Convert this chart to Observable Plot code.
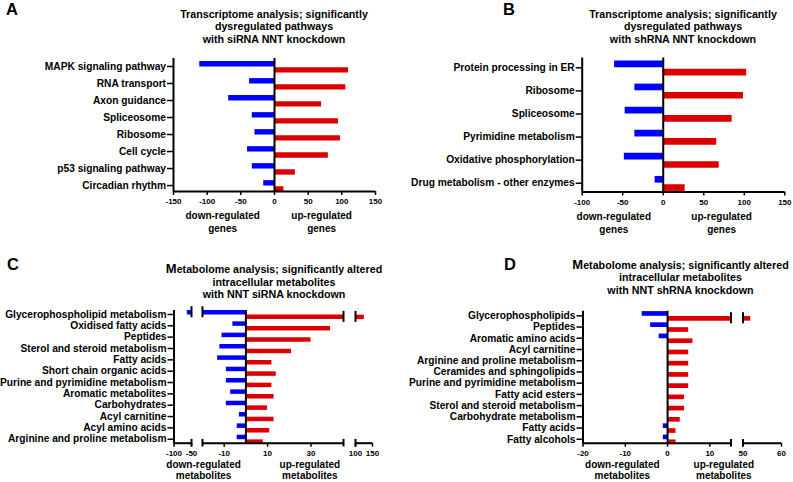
<!DOCTYPE html>
<html><head><meta charset="utf-8">
<script src="https://cdn.jsdelivr.net/npm/d3@7"></script>
<script src="https://cdn.jsdelivr.net/npm/@observablehq/plot@0.6"></script>
<style>
html,body{margin:0;padding:0;background:#fff;}
#root{position:relative;width:793px;height:482px;overflow:hidden;font-family:"Liberation Sans",Arial,Helvetica,sans-serif;font-weight:bold;color:#000;}
.panel{position:absolute;}
.letter{position:absolute;font-size:16.5px;line-height:16.5px;font-weight:bold;}
.title{position:absolute;font-size:10.7px;line-height:12.7px;text-align:center;white-space:nowrap;transform:translateX(-50%);}
.bigM{font-size:13px;line-height:12.7px;}
</style></head><body><div id="root"></div>
<script>
// ---------------- data ----------------
const catsA = ["MAPK signaling pathway","RNA transport","Axon guidance","Spliceosome","Ribosome","Cell cycle","p53 signaling pathway","Circadian rhythm"];
const downA = [-111,-37,-68,-33,-29,-40,-33,-16];
const upA   = [110,106,70,95,98,80,31,14];

const catsB = ["Protein processing in ER","Ribosome","Spliceosome","Pyrimidine metabolism","Oxidative phosphorylation","Drug metabolism - other enzymes"];
const downB = [-60,-35,-47,-35,-48,-10];
const upB   = [103,99,85,66,69,27];

const catsC = ["Glycerophospholipid metabolism","Oxidised fatty acids","Peptides","Sterol and steroid metabolism","Fatty acids","Short chain organic acids","Purine and pyrimidine metabolism","Aromatic metabolites","Carbohydrates","Acyl carnitine","Acyl amino acids","Arginine and proline metabolism"];
const downC = [-62,-6,-11,-12,-13,-9,-9,-7,-9,-3,-4,-4];
const upC   = [126,39,30,21,12,14,12,13,10,13,11,8];

const catsD = ["Glycerophospholipids","Peptides","Aromatic amino acids","Acyl carnitine","Arginine and proline metabolism","Ceramides and sphingolipids","Purine and pyrimidine metabolism","Fatty acid esters","Sterol and steroid metabolism","Carbohydrate metabolism","Fatty acids","Fatty alcohols"];
const downD = [-6,-4,-2,0,0,0,0,0,0,0,-1,-1];
const upD   = [52,5,6,5,5,5,5,4,4,3,2,2];

// axis tick labels and broken-axis segments (domain values)
const ticksA = [-150,-100,-50,0,50,100,150];
const ticksB = [-100,-50,0,50,100,150];
const ticksC = [-100,-50,-10,10,30,100,150];
const ticksD = [-20,-10,0,10,50,60];
const segmentsA = [[-150,150]];
const segmentsB = [[-100,150]];
const segmentsC = [[-100,-50],[-20,45],[100,150]];
const segmentsD = [[-20,15],[50,60]];

const titleA = ["Transcriptome analysis; significantly","dysregulated pathways","with siRNA NNT knockdown"];
const titleB = ["Transcriptome analysis; significantly","dysregulated pathways","with shRNA NNT knockdown"];
const titleC = ["Metabolome analysis; significantly altered","intracellular metabolites","with NNT siRNA knockdown"];
const titleD = ["Metabolome analysis; significantly altered","intracellular metabolites","with NNT shRNA knockdown"];
const axisTitlesGenes = ["down-regulated\ngenes","up-regulated\ngenes"];
const axisTitlesMet = ["down-regulated\nmetabolites","up-regulated\nmetabolites"];

// ---------------- styling ----------------
const BLUE = "#0000ff", RED = "#dd0000";
const FONT = "'Liberation Sans', Arial, Helvetica, sans-serif";
const root = document.getElementById("root");

function panel(cfg) {
  const n = cfg.cats.length;
  const rows = cfg.cats.map((c, i) => ({i, c, down: cfg.down[i], up: cfg.up[i]}));
  const segs = cfg.segments;
  const xMin = segs[0][0];
  const domain = segs.flat();
  const innerBreaks = domain.slice(1, -1);
  const [yTop, yBottom] = cfg.yDomain;
  const frameH = cfg.height - cfg.marginTop - cfg.marginBottom;
  const s = frameH / (yBottom - yTop);

  function pieces(field) {
    const out = [];
    for (const r of rows) {
      const v = r[field];
      if (!v) continue;
      const lo = Math.min(0, v), hi = Math.max(0, v);
      for (const [a, b] of segs) {
        const p0 = Math.max(lo, a), p1 = Math.min(hi, b);
        if (p1 > p0) out.push({i: r.i, x1: p0, x2: p1});
      }
    }
    return out;
  }
  function breakMarks(field) {
    const out = [];
    for (const r of rows) {
      const v = r[field];
      const lo = Math.min(0, v), hi = Math.max(0, v);
      for (const b of innerBreaks) if (b > lo && b < hi) out.push({i: r.i, x: b});
    }
    return out;
  }
  const mh = 5.5;
  const marks = [
    Plot.ruleY(pieces("down"), {y: "i", x1: "x1", x2: "x2", stroke: BLUE, strokeWidth: cfg.barH, dy: cfg.blueDy}),
    Plot.ruleY(pieces("up"), {y: "i", x1: "x1", x2: "x2", stroke: RED, strokeWidth: cfg.barH, dy: cfg.redDy}),
    Plot.ruleX(breakMarks("down"), {x: "x", y1: d => d.i + (cfg.blueDy - mh) / s, y2: d => d.i + (cfg.blueDy + mh) / s, stroke: "#000", strokeWidth: 2}),
    Plot.ruleX(breakMarks("up"), {x: "x", y1: d => d.i + (cfg.redDy - mh) / s, y2: d => d.i + (cfg.redDy + mh) / s, stroke: "#000", strokeWidth: 2}),
    Plot.ruleX([0], {stroke: "#000", strokeWidth: 2}),
    Plot.ruleX([xMin], {stroke: "#000", strokeWidth: 2}),
    Plot.ruleY(segs, {x1: d => d[0], x2: d => d[1], y: () => yBottom, stroke: "#000", strokeWidth: 2}),
    Plot.ruleX(innerBreaks, {x: d => d, y1: yBottom - 3.8 / s, y2: yBottom + 3.8 / s, stroke: "#000", strokeWidth: 2}),
    Plot.axisX({ticks: cfg.ticks, tickFormat: d => String(d), tickSize: 4, tickPadding: 3, fontSize: 8, fontWeight: "bold", strokeWidth: 1.5, label: null}),
    Plot.axisY({ticks: d3.range(n), tickFormat: i => cfg.cats[i], tickSize: 6, tickPadding: 1.5, fontSize: 10.2, fontWeight: "bold", strokeWidth: 1.5, label: null}),
    Plot.text(cfg.axisTitles.map((t, k) => ({t, x: cfg.axisTitleX[k]})), {x: "x", text: "t", frameAnchor: "bottom", dy: cfg.axisTitleDy, lineAnchor: "middle", lineHeight: cfg.axisTitleLH, fontSize: 10, fontWeight: "bold", fill: "#000"})
  ];
  const chart = Plot.plot({
    width: cfg.width, height: cfg.height,
    marginLeft: cfg.marginLeft, marginRight: cfg.marginRight,
    marginTop: cfg.marginTop, marginBottom: cfg.marginBottom,
    x: {type: "linear", domain, range: cfg.xRange},
    y: {type: "linear", domain: [yTop, yBottom], range: [cfg.marginTop, cfg.height - cfg.marginBottom]},
    style: {fontFamily: FONT, fontWeight: "bold", color: "#000", background: "transparent", overflow: "visible"},
    marks
  });
  const wrap = document.createElement("div");
  wrap.className = "panel";
  wrap.style.left = cfg.left + "px";
  wrap.style.top = cfg.top + "px";
  wrap.appendChild(chart);
  root.appendChild(wrap);

  const t = document.createElement("div");
  t.className = "title";
  t.style.left = cfg.titleX + "px";
  t.style.top = cfg.titleY + "px";
  t.innerHTML = cfg.title.map((line, k) => k === 0 && cfg.bigFirst ? `<span class="bigM">${line[0]}</span>${line.slice(1)}` : line).join("<br>");
  root.appendChild(t);

  const L = document.createElement("div");
  L.className = "letter";
  L.style.left = cfg.letterX + "px";
  L.style.top = cfg.letterY + "px";
  L.textContent = cfg.letter;
  root.appendChild(L);
}

panel({
  letter: "A", letterX: 6, letterY: 1.2,
  title: titleA, titleX: 274, titleY: 7.6,
  cats: catsA, down: downA, up: upA, segments: segmentsA, ticks: ticksA,
  left: 0, top: 0, width: 400, height: 240,
  marginLeft: 173, marginRight: 25, marginTop: 58, marginBottom: 49,
  xRange: [173, 375], yDomain: [-0.47, 7.35],
  barH: 5.4, blueDy: -2.7, redDy: 3.4,
  axisTitles: axisTitlesGenes, axisTitleX: [-77, 70], axisTitleDy: 30.2, axisTitleLH: 1.23
});
panel({
  letter: "B", letterX: 503, letterY: 1.2,
  title: titleB, titleX: 683, titleY: 7.6,
  cats: catsB, down: downB, up: upB, segments: segmentsB, ticks: ticksB,
  left: 400, top: 0, width: 393, height: 240,
  marginLeft: 181.7, marginRight: 8.7, marginTop: 57.5, marginBottom: 48.5,
  xRange: [181.7, 384.3], yDomain: [-0.425, 5.38],
  barH: 6.7, blueDy: -3.95, redDy: 4.35,
  axisTitles: axisTitlesGenes, axisTitleX: [-61, 72], axisTitleDy: 30, axisTitleLH: 1.3
});
panel({
  letter: "C", letterX: 7, letterY: 256,
  title: titleC, titleX: 274, titleY: 263, bigFirst: true,
  cats: catsC, down: downC, up: upC, segments: segmentsC, ticks: ticksC,
  left: 0, top: 240, width: 400, height: 242,
  marginLeft: 173.5, marginRight: 28, marginTop: 70, marginBottom: 39.3,
  xRange: [173.5, 191, 202, 343, 355, 372], yDomain: [-0.35, 11.35],
  barH: 4.5, blueDy: -2.25, redDy: 2.4,
  axisTitles: axisTitlesMet, axisTitleX: [-19.5, 29.5], axisTitleDy: 26.3, axisTitleLH: 1.1
});
panel({
  letter: "D", letterX: 504, letterY: 256,
  title: titleD, titleX: 680.5, titleY: 258.7, bigFirst: true,
  cats: catsD, down: downD, up: upD, segments: segmentsD, ticks: ticksD,
  left: 400, top: 240, width: 393, height: 242,
  marginLeft: 182.5, marginRight: 12, marginTop: 70.7, marginBottom: 39.3,
  xRange: [182.5, 330.5, 342.5, 381], yDomain: [-0.41, 11.35],
  barH: 4.7, blueDy: -2.35, redDy: 2.5,
  axisTitles: axisTitlesMet, axisTitleX: [-10.7, 13.3], axisTitleDy: 26.3, axisTitleLH: 1.1
});
</script>
</body></html>
